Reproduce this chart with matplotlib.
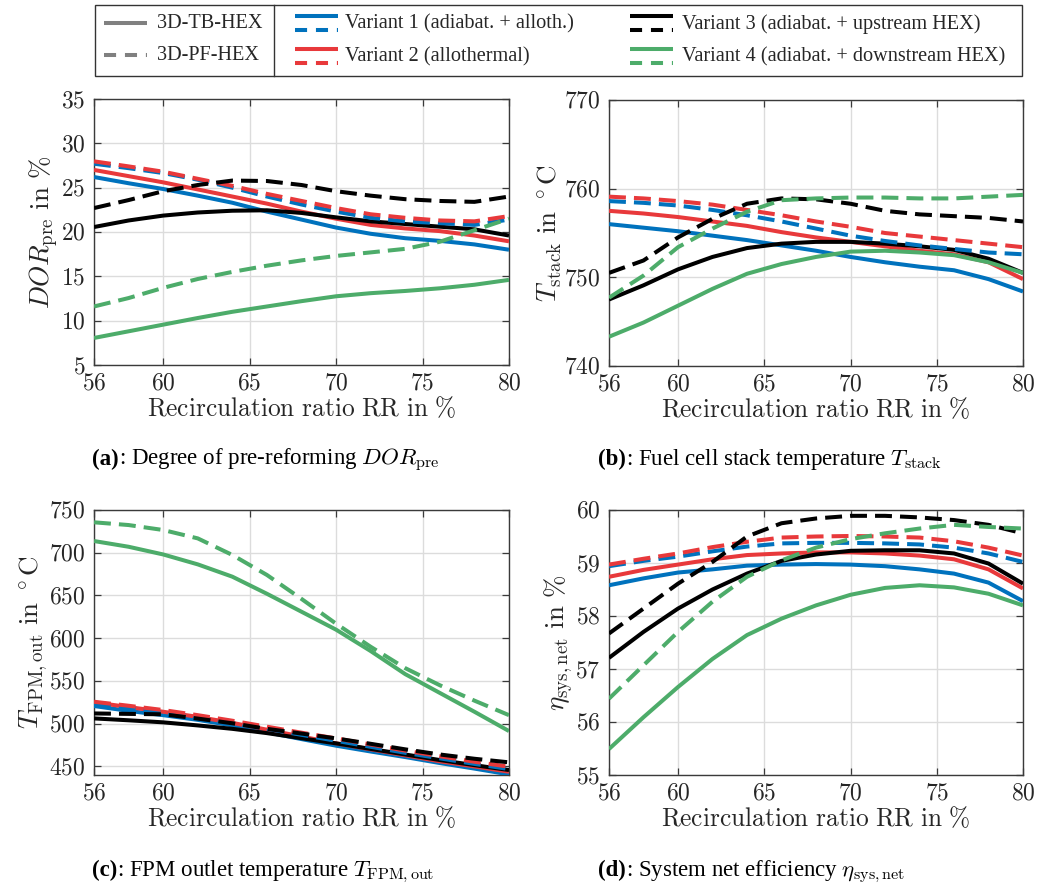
import matplotlib
matplotlib.use("Agg")
import matplotlib.pyplot as plt
from matplotlib.lines import Line2D
from matplotlib.patches import Rectangle

plt.rcParams['mathtext.fontset'] = 'cm'
plt.rcParams['font.family'] = ['Liberation Serif', 'DejaVu Serif']

# ---------------- data ----------------
rr = [56, 58, 60, 62, 64, 66, 68, 70, 72, 74, 76, 78, 80]

# (a) DOR_pre in %
dor_v1_tb = [26.2, 25.5, 24.85, 24.1, 23.3, 22.3, 21.4, 20.5, 19.8, 19.3, 19.0, 18.6, 18.0]
dor_v2_tb = [27.0, 26.3, 25.6, 24.8, 24.0, 23.2, 22.3, 21.5, 20.8, 20.4, 20.1, 19.6, 18.95]
dor_v3_tb = [20.56, 21.3, 21.85, 22.2, 22.4, 22.45, 22.15, 21.65, 21.2, 20.9, 20.6, 20.3, 19.6]
dor_v4_tb = [8.05, 8.8, 9.55, 10.3, 11.0, 11.6, 12.2, 12.75, 13.1, 13.35, 13.65, 14.05, 14.6]
dor_v1_pf = [27.7, 27.2, 26.65, 25.9, 25.0, 24.0, 23.1, 22.3, 21.6, 21.2, 21.0, 20.8, 21.4]
dor_v2_pf = [27.97, 27.4, 26.8, 26.0, 25.2, 24.3, 23.5, 22.7, 22.0, 21.6, 21.3, 21.2, 21.8]
dor_v3_pf = [22.7, 23.6, 24.6, 25.3, 25.8, 25.75, 25.3, 24.6, 24.1, 23.7, 23.5, 23.4, 24.0]
dor_v4_pf = [11.6, 12.55, 13.7, 14.7, 15.5, 16.2, 16.8, 17.3, 17.7, 18.1, 18.9, 20.2, 21.5]

# (b) T_stack in degC
ts_v1_tb = [756.0, 755.6, 755.2, 754.7, 754.2, 753.6, 753.0, 752.3, 751.7, 751.2, 750.8, 749.8, 748.4]
ts_v2_tb = [757.5, 757.2, 756.8, 756.3, 755.8, 755.1, 754.5, 754.0, 753.5, 753.0, 752.6, 751.7, 749.8]
ts_v3_tb = [747.5, 749.1, 750.9, 752.3, 753.3, 753.8, 754.0, 754.0, 753.8, 753.5, 753.1, 752.1, 750.5]
ts_v4_tb = [743.3, 744.9, 746.8, 748.7, 750.4, 751.5, 752.3, 752.9, 753.0, 752.8, 752.5, 751.7, 750.5]
ts_v1_pf = [758.6, 758.4, 758.1, 757.6, 757.0, 756.3, 755.5, 754.7, 754.1, 753.6, 753.2, 752.8, 752.6]
ts_v2_pf = [759.1, 758.9, 758.6, 758.2, 757.6, 757.0, 756.3, 755.7, 755.0, 754.6, 754.2, 753.8, 753.4]
ts_v3_pf = [750.5, 751.9, 754.5, 756.6, 758.3, 758.9, 758.8, 758.3, 757.5, 757.1, 756.9, 756.7, 756.3]
ts_v4_pf = [747.7, 750.2, 753.4, 755.5, 757.4, 758.7, 758.9, 759.0, 759.0, 758.9, 758.9, 759.1, 759.3]

# (c) T_FPM,out in degC
tf_v1_tb = [520.7, 515, 510, 504.5, 498, 490, 482, 474.3, 467.5, 461, 454, 447.5, 440.7]
tf_v2_tb = [525, 519.5, 514, 508, 501, 493, 485, 477, 470, 463, 456, 450, 443.8]
tf_v3_tb = [506.2, 504, 501.6, 498, 494, 489, 483, 477, 470.5, 464, 457.5, 451.5, 445.8]
tf_v4_tb = [713.7, 707, 698, 686.4, 672, 652, 631, 610, 585, 558, 536, 514, 491.4]
tf_v1_pf = [523, 518, 513, 507, 500.5, 494, 487, 480, 473, 466, 459.5, 453, 447]
tf_v2_pf = [525.7, 521, 516, 510, 503.5, 496.5, 489.5, 482.8, 475.7, 468.5, 462, 455.5, 449.7]
tf_v3_pf = [512, 511.5, 511, 506, 500.5, 494, 488.5, 482.8, 476.5, 470, 464, 459, 454.8]
tf_v4_pf = [735.6, 732.4, 726.6, 716.8, 697.4, 674, 646, 617, 590, 565, 545, 527, 510]

# (d) eta_sys,net in %
et_v1_tb = [58.58, 58.71, 58.82, 58.88, 58.95, 58.97, 58.98, 58.97, 58.94, 58.88, 58.80, 58.63, 58.28]
et_v2_tb = [58.74, 58.87, 58.97, 59.07, 59.15, 59.18, 59.20, 59.20, 59.18, 59.14, 59.07, 58.88, 58.52]
et_v3_tb = [57.21, 57.70, 58.14, 58.50, 58.80, 59.04, 59.16, 59.23, 59.24, 59.24, 59.18, 58.99, 58.61]
et_v4_tb = [55.49, 56.09, 56.66, 57.19, 57.64, 57.95, 58.20, 58.40, 58.53, 58.58, 58.54, 58.42, 58.20]
et_v1_pf = [58.94, 59.04, 59.12, 59.22, 59.31, 59.37, 59.38, 59.38, 59.37, 59.35, 59.29, 59.18, 59.02]
et_v2_pf = [58.97, 59.08, 59.18, 59.30, 59.40, 59.48, 59.50, 59.51, 59.50, 59.48, 59.41, 59.29, 59.14]
et_v3_pf = [57.67, 58.14, 58.61, 59.02, 59.50, 59.75, 59.84, 59.89, 59.89, 59.86, 59.81, 59.72, 59.56]
et_v4_pf = [56.44, 57.07, 57.70, 58.27, 58.74, 59.05, 59.29, 59.45, 59.56, 59.65, 59.72, 59.68, 59.65]

variant_labels = ['Variant 1 (adiabat. + alloth.)', 'Variant 2 (allothermal)',
                  'Variant 3 (adiabat. + upstream HEX)', 'Variant 4 (adiabat. + downstream HEX)']
hex_labels = ['3D-TB-HEX', '3D-PF-HEX']
colors = ['#0072BD', '#E8393B', '#000000', '#4DAC6A']

x_ticks = [56, 60, 65, 70, 75, 80]

panels = [
    dict(tb=[dor_v1_tb, dor_v2_tb, dor_v3_tb, dor_v4_tb],
         pf=[dor_v1_pf, dor_v2_pf, dor_v3_pf, dor_v4_pf],
         ylim=(5, 35), yticks=[5, 10, 15, 20, 25, 30, 35],
         ylabel=r'$DOR_\mathrm{pre}\ \mathrm{in}\ \%$',
         caption=(r'(a)', r': Degree of pre-reforming $DOR_\mathrm{pre}$')),
    dict(tb=[ts_v1_tb, ts_v2_tb, ts_v3_tb, ts_v4_tb],
         pf=[ts_v1_pf, ts_v2_pf, ts_v3_pf, ts_v4_pf],
         ylim=(740, 770), yticks=[740, 750, 760, 770],
         ylabel=r'$T_\mathrm{stack}\ \mathrm{in}\ ^\circ\mathrm{C}$',
         caption=(r'(b)', r': Fuel cell stack temperature $T_\mathrm{stack}$')),
    dict(tb=[tf_v1_tb, tf_v2_tb, tf_v3_tb, tf_v4_tb],
         pf=[tf_v1_pf, tf_v2_pf, tf_v3_pf, tf_v4_pf],
         ylim=(440, 750), yticks=[450, 500, 550, 600, 650, 700, 750],
         ylabel=r'$T_\mathrm{FPM,out}\ \mathrm{in}\ ^\circ\mathrm{C}$',
         caption=(r'(c)', r': FPM outlet temperature $T_\mathrm{FPM,out}$')),
    dict(tb=[et_v1_tb, et_v2_tb, et_v3_tb, et_v4_tb],
         pf=[et_v1_pf, et_v2_pf, et_v3_pf, et_v4_pf],
         ylim=(55, 60), yticks=[55, 56, 57, 58, 59, 60],
         ylabel=r'$\eta_\mathrm{sys,net}\ \mathrm{in}\ \%$',
         caption=(r'(d)', r': System net efficiency $\eta_\mathrm{sys,net}$')),
]

# ---------------- layout ----------------
W, H = 1049, 883
fig = plt.figure(figsize=(W / 100, H / 100), dpi=100)


def fx(px):
    return px / W


def fy(py):
    return 1 - py / H


# axes boxes in pixels: (left, top, right, bottom)
boxes = [(94, 99, 509, 365), (609, 100, 1023, 366),
         (94, 510, 509, 775), (609, 510, 1023, 775)]
# caption baselines
caption_pos = [(92, 465), (598, 465), (92, 876), (598, 876)]

LW = 2.9
DASH = (4.2, 2.0)
axcol = '#3a3a3a'
txtcol = '#262626'

for p, box, cpos in zip(panels, boxes, caption_pos):
    l, t, r, b = box
    ax = fig.add_axes([fx(l), fy(b), fx(r) - fx(l), fy(t) - fy(b)])
    for i in range(4):
        ax.plot(rr, p['tb'][i], color=colors[i], lw=LW, solid_capstyle='butt', zorder=3)
    for i in range(4):
        ax.plot(rr, p['pf'][i], color=colors[i], lw=LW, ls=(0, DASH),
                dash_capstyle='butt', zorder=3)
    ax.set_xlim(56, 80)
    ax.set_ylim(*p['ylim'])
    ax.set_xticks(x_ticks)
    ax.set_xticklabels([f'${v}$' for v in x_ticks])
    ax.set_yticks(p['yticks'])
    ax.set_yticklabels([f'${v}$' for v in p['yticks']])
    ax.grid(True, color='#dcdcdc', lw=1.0, zorder=0)
    ax.set_axisbelow(True)
    ax.tick_params(direction='in', length=5, width=0.9, color=axcol,
                   top=True, right=True, labelsize=17, labelcolor=txtcol, pad=6)
    for s in ax.spines.values():
        s.set_color(axcol)
        s.set_linewidth(1.0)
    ax.set_xlabel(r'$\mathrm{Recirculation\ ratio\ RR\ in\ \%}$', fontsize=18.3,
                  color=txtcol, labelpad=1)
    ax.set_ylabel(p['ylabel'], fontsize=19.5, color=txtcol, labelpad=0)
    # caption
    cap_b, cap_rest = p['caption']
    tb_ = fig.text(fx(cpos[0]), fy(cpos[1]), cap_b, fontsize=16.5, fontweight='bold',
                   ha='left', va='baseline', family='Liberation Serif')
    fig.canvas.draw()
    bb = tb_.get_window_extent()
    fig.text(bb.x1 / W, fy(cpos[1]), cap_rest, fontsize=16.5, ha='left', va='baseline',
             family='Liberation Serif', math_fontfamily='cm')

# ---------------- legend (drawn in figure pixel coordinates) ----------------
fig.add_artist(Rectangle((fx(95), fy(76)), fx(1022) - fx(95), fy(5) - fy(76),
                         transform=fig.transFigure, fill=False, edgecolor='#333333', lw=1.0))
fig.add_artist(Line2D([fx(274), fx(274)], [fy(5), fy(76)], transform=fig.transFigure,
                      color='#333333', lw=1.0))

legfs = 14.6
gray = '#808080'
for k, (lab, yy) in enumerate(zip(hex_labels, [23, 55])):
    ls = '-' if k == 0 else (0, (3.0, 2.2))
    fig.add_artist(Line2D([fx(104), fx(147)], [fy(yy), fy(yy)], transform=fig.transFigure,
                          color=gray, lw=LW, ls=ls, solid_capstyle='butt', dash_capstyle='butt'))
    fig.text(fx(157), fy(yy + 1), lab, fontsize=legfs, ha='left', va='center', color=txtcol)

icon_x = [(295, 338), (295, 338), (630, 673), (630, 673)]
text_x = [345, 345, 682, 682]
row_y = [23, 56, 23, 56]
for i in range(4):
    x0, x1 = icon_x[i]
    yc = row_y[i]
    fig.add_artist(Line2D([fx(x0), fx(x1)], [fy(yc - 7), fy(yc - 7)], transform=fig.transFigure,
                          color=colors[i], lw=LW, solid_capstyle='butt'))
    fig.add_artist(Line2D([fx(x0), fx(x1)], [fy(yc + 7), fy(yc + 7)], transform=fig.transFigure,
                          color=colors[i], lw=LW, ls=(0, (3.0, 2.2)), dash_capstyle='butt'))
    fig.text(fx(text_x[i]), fy(yc + 1), variant_labels[i], fontsize=legfs, ha='left',
             va='center', color=txtcol)

fig.savefig('out.png', dpi=100)
